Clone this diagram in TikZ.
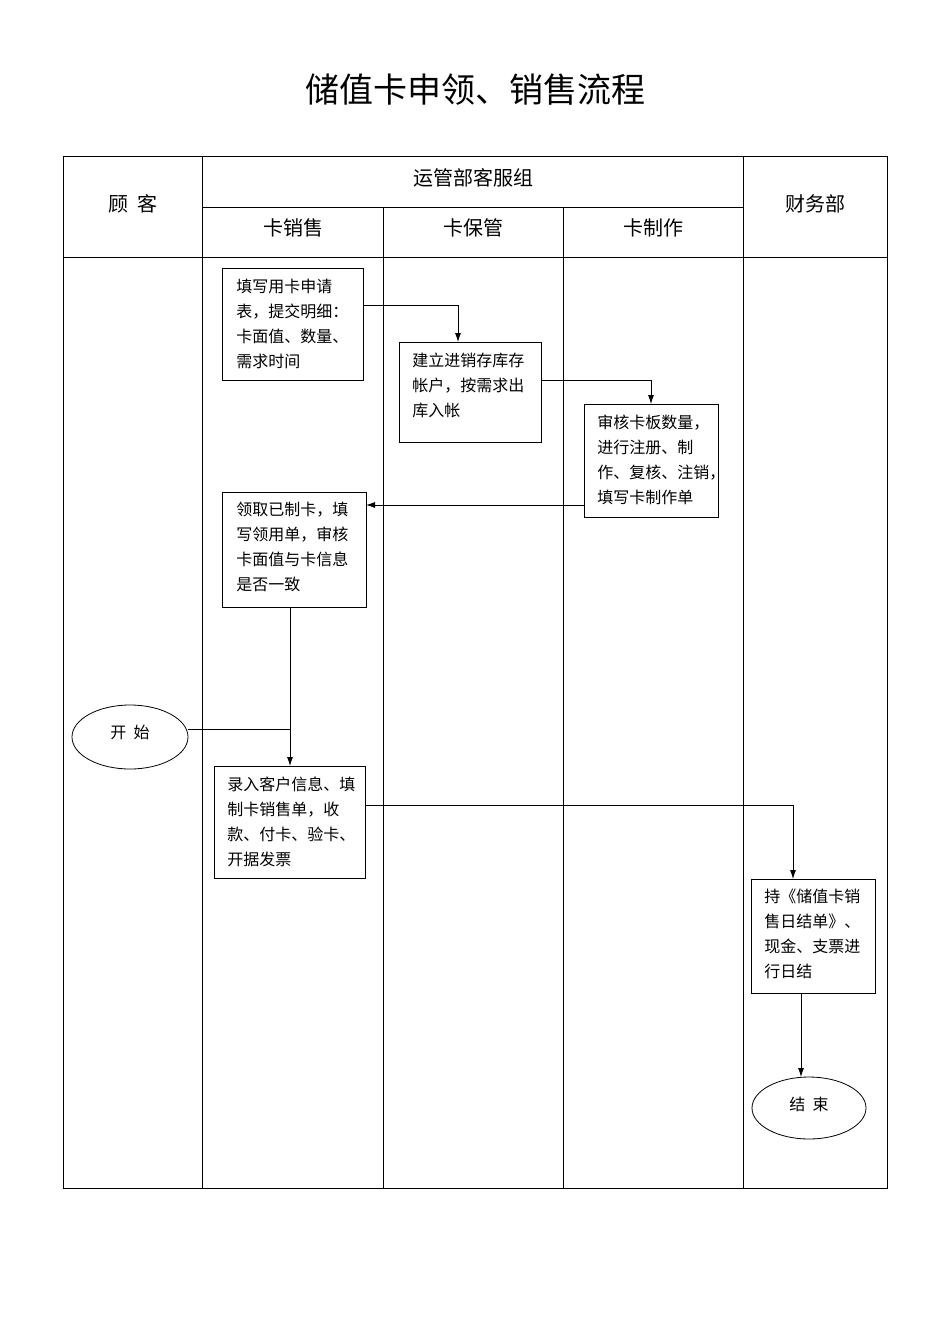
\documentclass[tikz,border=0pt]{standalone}
\usepackage{fontspec}
\setmainfont{Noto Sans CJK SC}
\usetikzlibrary{arrows.meta}
\begin{document}
\begin{tikzpicture}[x=1pt,y=-1pt,
  box/.style={draw,thick,align=left,inner sep=0pt,font=\fontsize{16}{25}\selectfont},
  hdr/.style={font=\fontsize{20}{24}\selectfont},
  arr/.style={thick,-{Latex[length=9pt,width=6pt]}}]
\useasboundingbox (0,0) rectangle (950,1344);
\node[font=\fontsize{34}{40}\selectfont] (title) at (475,90) {储值卡申领、销售流程};
\draw (63,156) rectangle (887,1188);
\draw (63,257) -- (887,257);
\draw (202,207) -- (743,207);
\draw (202,156) -- (202,1188);
\draw (743,156) -- (743,1188);
\draw (383,207) -- (383,1188);
\draw (563,207) -- (563,1188);
\node[hdr] (h1) at (133,204) {顾\ \ 客};
\node[hdr] (h2) at (473,178) {运管部客服组};
\node[hdr] (h3) at (293,228) {卡销售};
\node[hdr] (h4) at (473,228) {卡保管};
\node[hdr] (h5) at (653,228) {卡制作};
\node[hdr] (h6) at (815,204) {财务部};
\draw[thick] (222,268) rectangle (363,380);
\node[box,draw=none,anchor=north west] (A) at (236,279) {填写用卡申请\\表，提交明细：\\卡面值、数量、\\需求时间};
\draw[thick] (399,342) rectangle (541,442);
\node[box,draw=none,anchor=north west] (B) at (412,353) {建立进销存库存\\帐户，按需求出\\库入帐};
\draw[thick] (584,404) rectangle (718,517);
\node[box,draw=none,anchor=north west] (C) at (597,415) {审核卡板数量，\\进行注册、制\\作、复核、注销，\\填写卡制作单};
\draw[thick] (222,492) rectangle (366,607);
\node[box,draw=none,anchor=north west] (D) at (236,502) {领取已制卡，填\\写领用单，审核\\卡面值与卡信息\\是否一致};
\draw[thick] (214,766) rectangle (365,878);
\node[box,draw=none,anchor=north west] (E) at (227,776) {录入客户信息、填\\制卡销售单，收\\款、付卡、验卡、\\开据发票};
\draw[thick] (751,879) rectangle (875,993);
\node[box,draw=none,anchor=north west] (F) at (764,889) {持《储值卡销\\售日结单》、\\现金、支票进\\行日结};
\draw[thick] (130,737) ellipse [x radius=58,y radius=32];
\node[font=\fontsize{16}{18}\selectfont] (S) at (130,732) {开\ \ 始};
\draw[thick] (809,1108) ellipse [x radius=57,y radius=31];
\node[font=\fontsize{16}{18}\selectfont] (T) at (809,1104) {结\ \ 束};
\coordinate (a1) at (363,305); \coordinate (a2) at (458,342);
\draw[arr] (a1) -| (a2);
\coordinate (b1) at (541,380); \coordinate (b2) at (651,404);
\draw[arr] (b1) -| (b2);
\coordinate (c1) at (584,505); \coordinate (c2) at (366,505);
\draw[arr] (c1) -- (c2);
\coordinate (d1) at (290,607); \coordinate (d2) at (290,766);
\draw[arr] (d1) -- (d2);
\coordinate (s1) at (188,729);
\draw[thick] (s1) -- (290,729);
\coordinate (e1) at (365,805); \coordinate (e2) at (793,879);
\draw[arr] (e1) -| (e2);
\coordinate (f1) at (801,993); \coordinate (f2) at (801,1077);
\draw[arr] (f1) -- (f2);
\end{tikzpicture}
\end{document}
